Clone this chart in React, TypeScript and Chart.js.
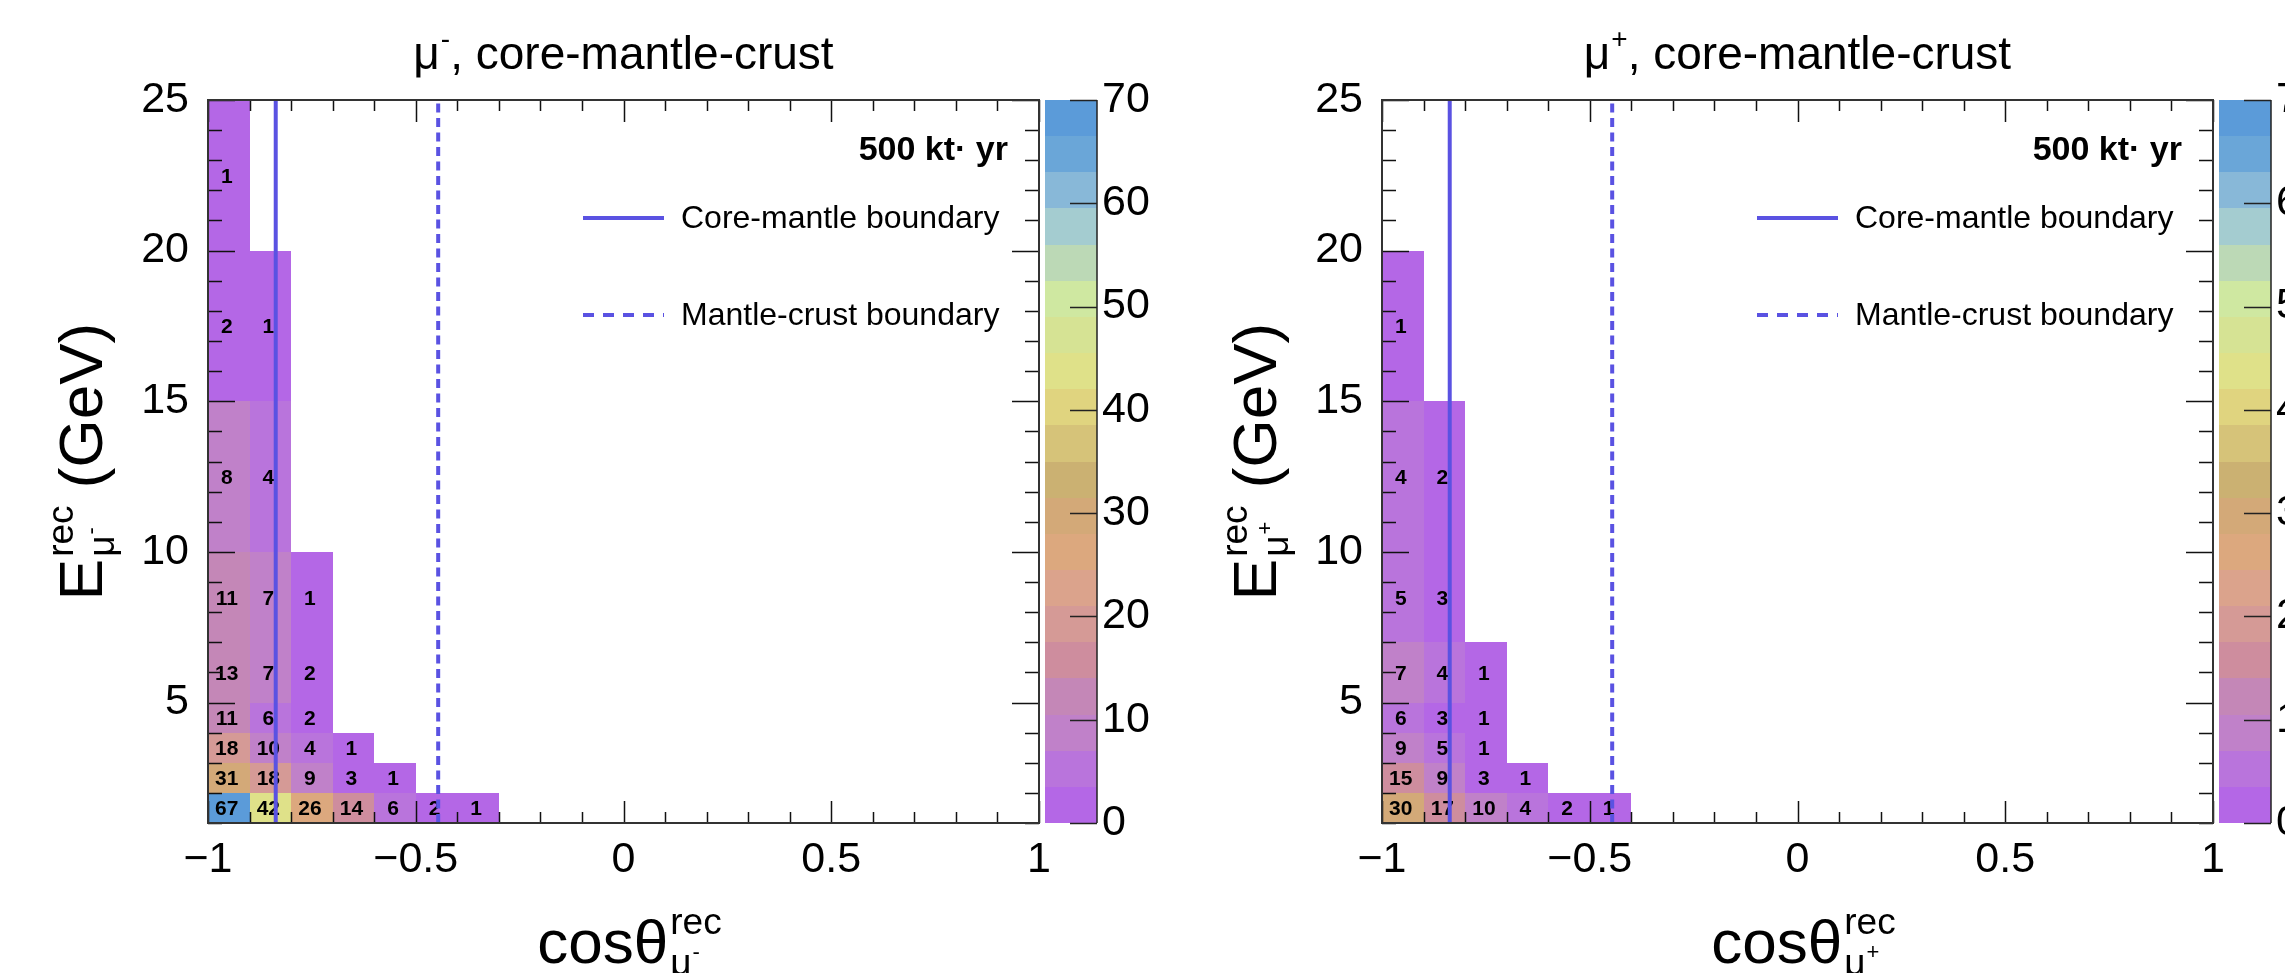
import React, { useEffect, useRef } from 'react';
import { Chart, registerables } from 'chart.js';

Chart.register(...registerables);

const FONT = '"Liberation Sans", Arial, Helvetica, sans-serif';

// ---- data ----
const cosEdges = [-1.0, -0.9, -0.8, -0.7, -0.6, -0.5, -0.4, -0.3, -0.2, -0.1, 0.0, 0.1, 0.2, 0.3, 0.4, 0.5, 0.6, 0.7, 0.8, 0.9, 1.0];
const energyEdges = [1, 2, 3, 4, 5, 7, 10, 15, 20, 25];
// counts per energy bin (bottom first), per cos bin starting at -1
const muMinusCounts = [
  [67, 42, 26, 14, 6, 2, 1],
  [31, 18, 9, 3, 1],
  [18, 10, 4, 1],
  [11, 6, 2],
  [13, 7, 2],
  [11, 7, 1],
  [8, 4],
  [2, 1],
  [1],
];
const muPlusCounts = [
  [30, 17, 10, 4, 2, 1],
  [15, 9, 3, 1],
  [9, 5, 1],
  [6, 3, 1],
  [7, 4, 1],
  [5, 3],
  [4, 2],
  [1],
  [],
];
const cosMajorTicks = [-1, -0.5, 0, 0.5, 1];
const energyMajorTicks = [5, 10, 15, 20, 25];
const energyMinorTicks = [1, 2, 3, 4, 6, 7, 8, 9, 11, 12, 13, 14, 16, 17, 18, 19, 21, 22, 23, 24];
const colorTicks = [0, 10, 20, 30, 40, 50, 60, 70];
const zMax = 70;
const paletteColors = [
  '#b467e6', '#b974dc', '#c081c9', '#c487b7', '#ce8d9e',
  '#d59a96', '#dba38c', '#dca87e', '#d3a978', '#cbb172',
  '#d6c379', '#e0d47f', '#dfe189', '#d6e394', '#cfe8a1',
  '#bcd9b6', '#a4ccd0', '#88b8d8', '#6aa6d8', '#5b9bd9',
];
const coreMantleCos = -0.837;
const mantleCrustCos = -0.446;
const exposureLabel = '500 kt\u00b7 yr';
const legendLabels = ['Core-mantle boundary', 'Mantle-crust boundary'];
const titleRest = ', core-mantle-crust';
const LINE_COLOR = '#5a52e2';

function colorFor(v: number) {
  const n = paletteColors.length;
  let i = Math.floor(v / (zMax / n));
  if (i >= n) i = n - 1;
  if (i < 0) i = 0;
  return paletteColors[i];
}

function fmtTick(v: number) {
  if (v < 0) return '\u2212' + String(Math.abs(v));
  return String(v);
}

function drawAxisTitle(ctx: CanvasRenderingContext2D, mainText: string, tail: string, sign: string, x: number, y: number, rotate: boolean) {
  ctx.save();
  ctx.translate(x, y);
  if (rotate) ctx.rotate(-Math.PI / 2);
  const F = 62, S = 37, SS = 22;
  ctx.fillStyle = '#000';
  ctx.textAlign = 'left';
  ctx.textBaseline = 'alphabetic';
  ctx.font = `${F}px ${FONT}`;
  const wMain = ctx.measureText(mainText).width;
  const wTail = tail ? ctx.measureText(tail).width : 0;
  ctx.font = `${S}px ${FONT}`;
  const wRec = ctx.measureText('rec').width;
  const wMu = ctx.measureText('\u03bc').width;
  ctx.font = `${SS}px ${FONT}`;
  const wSign = ctx.measureText(sign).width;
  const wScript = Math.max(wRec, wMu + wSign + 1);
  const total = wMain + 2 + wScript + wTail;
  const x0 = -total / 2;
  ctx.font = `${F}px ${FONT}`;
  ctx.fillText(mainText, x0, 0);
  const sx = x0 + wMain + 2;
  ctx.font = `${S}px ${FONT}`;
  ctx.fillText('rec', sx, -29);
  ctx.fillText('\u03bc', sx, 12);
  ctx.font = `${SS}px ${FONT}`;
  ctx.fillText(sign, sx + wMu + 1, -4);
  if (tail) {
    ctx.font = `${F}px ${FONT}`;
    ctx.fillText(tail, sx + wScript, 0);
  }
  ctx.restore();
}

function drawTitle(ctx: CanvasRenderingContext2D, cx: number, baseline: number, sign: string) {
  ctx.save();
  ctx.fillStyle = '#000';
  ctx.textAlign = 'left';
  ctx.textBaseline = 'alphabetic';
  ctx.font = `40px ${FONT}`;
  const w40 = ctx.measureText('\u03bc' + titleRest).width + 0.6 * ctx.measureText(sign).width + 1;
  const F = Math.round((40 * 424) / w40);
  const SS = Math.round(F * 0.6);
  ctx.font = `${F}px ${FONT}`;
  const wMu = ctx.measureText('\u03bc').width;
  const wRest = ctx.measureText(titleRest).width;
  ctx.font = `${SS}px ${FONT}`;
  const wSign = ctx.measureText(sign).width;
  const total = wMu + 1 + wSign + wRest;
  const x0 = cx - total / 2;
  ctx.font = `${F}px ${FONT}`;
  ctx.fillText('\u03bc', x0, baseline);
  ctx.font = `${SS}px ${FONT}`;
  ctx.fillText(sign, x0 + wMu + 1, baseline - Math.round(F * 0.45));
  ctx.font = `${F}px ${FONT}`;
  ctx.fillText(titleRest, x0 + wMu + 1 + wSign, baseline);
  ctx.restore();
}

function makePanelPlugin(counts: number[][], sign: string) {
  return {
    id: 'panel2d',
    beforeDatasetsDraw(chart: any) {
      const { ctx, scales } = chart;
      const xs = scales.x, ys = scales.y;
      ctx.save();
      counts.forEach((row: number[], r: number) => {
        const yTop = Math.round(ys.getPixelForValue(energyEdges[r + 1]));
        const yBot = Math.round(ys.getPixelForValue(energyEdges[r]));
        row.forEach((v: number, c: number) => {
          if (v <= 0) return;
          const xL = Math.round(xs.getPixelForValue(cosEdges[c]));
          const xR = Math.round(xs.getPixelForValue(cosEdges[c + 1]));
          ctx.fillStyle = colorFor(v);
          ctx.fillRect(xL, yTop, xR - xL, yBot - yTop);
        });
      });
      ctx.fillStyle = '#000';
      ctx.font = `bold 21px ${FONT}`;
      ctx.textAlign = 'center';
      ctx.textBaseline = 'alphabetic';
      counts.forEach((row: number[], r: number) => {
        const yc = (ys.getPixelForValue(energyEdges[r + 1]) + ys.getPixelForValue(energyEdges[r])) / 2;
        row.forEach((v: number, c: number) => {
          if (v <= 0) return;
          const xc = (xs.getPixelForValue(cosEdges[c]) + xs.getPixelForValue(cosEdges[c + 1])) / 2;
          ctx.fillText(String(v), xc - 2, yc + 7.5);
        });
      });
      ctx.restore();
    },
    afterDraw(chart: any) {
      const { ctx, chartArea: ca, scales } = chart;
      const xs = scales.x, ys = scales.y, zs = scales.z;
      ctx.save();
      // ticks (inside)
      ctx.strokeStyle = '#111';
      ctx.lineWidth = 1.5;
      ctx.beginPath();
      cosEdges.forEach((v) => {
        const px = Math.round(xs.getPixelForValue(v)) + 0.5;
        const len = cosMajorTicks.includes(v) ? 22 : 11;
        ctx.moveTo(px, ca.bottom); ctx.lineTo(px, ca.bottom - len);
        ctx.moveTo(px, ca.top); ctx.lineTo(px, ca.top + len);
      });
      energyMinorTicks.concat(energyMajorTicks).forEach((v) => {
        const py = Math.round(ys.getPixelForValue(v)) + 0.5;
        const len = energyMajorTicks.includes(v) ? 27 : 14;
        ctx.moveTo(ca.left, py); ctx.lineTo(ca.left + len, py);
        ctx.moveTo(ca.right, py); ctx.lineTo(ca.right - len, py);
      });
      ctx.stroke();
      // frame
      ctx.strokeStyle = '#333';
      ctx.lineWidth = 2;
      ctx.strokeRect(ca.left, ca.top, ca.right - ca.left, ca.bottom - ca.top);

      // colour bar
      const barL = Math.round(ca.right + 6);
      const barW = 52;
      const n = paletteColors.length;
      for (let i = 0; i < n; i++) {
        const y0 = Math.round(zs.getPixelForValue((zMax / n) * i));
        const y1 = Math.round(zs.getPixelForValue((zMax / n) * (i + 1)));
        ctx.fillStyle = paletteColors[i];
        ctx.fillRect(barL, y1, barW, y0 - y1);
      }
      ctx.strokeStyle = '#222';
      ctx.lineWidth = 1.5;
      ctx.beginPath();
      ctx.moveTo(barL + barW, zs.getPixelForValue(0));
      ctx.lineTo(barL + barW, zs.getPixelForValue(zMax));
      colorTicks.forEach((v) => {
        const py = Math.round(zs.getPixelForValue(v)) + 0.5;
        ctx.moveTo(barL + barW, py); ctx.lineTo(barL + barW - 27, py);
      });
      ctx.stroke();

      // title
      drawTitle(ctx, (ca.left + ca.right) / 2, ca.top - 31, sign);
      // axis titles
      drawAxisTitle(ctx, 'cos\u03b8', '', sign, (ca.left + ca.right) / 2 + 6, 963, false);
      drawAxisTitle(ctx, 'E', ' (GeV)', sign, ca.left - 106, (ca.top + ca.bottom) / 2, true);

      // exposure label
      ctx.fillStyle = '#000';
      ctx.font = `bold 34px ${FONT}`;
      ctx.textAlign = 'right';
      ctx.textBaseline = 'alphabetic';
      ctx.fillText(exposureLabel, ca.right - 31, ca.top + 60);

      // legend
      const lx0 = ca.left + 375, lx1 = ca.left + 456, tx = ca.left + 473;
      ctx.strokeStyle = LINE_COLOR;
      ctx.lineWidth = 4;
      ctx.beginPath();
      ctx.moveTo(lx0, ca.top + 118); ctx.lineTo(lx1, ca.top + 118);
      ctx.stroke();
      ctx.setLineDash([11, 9]);
      ctx.beginPath();
      ctx.moveTo(lx0, ca.top + 215); ctx.lineTo(lx1, ca.top + 215);
      ctx.stroke();
      ctx.setLineDash([]);
      ctx.font = `32px ${FONT}`;
      ctx.textAlign = 'left';
      ctx.fillStyle = '#000';
      ctx.fillText(legendLabels[0], tx, ca.top + 128);
      ctx.fillText(legendLabels[1], tx, ca.top + 225);
      ctx.restore();
    },
  };
}

function makeConfig(counts: number[][], sign: string): any {
  const tickFont = { family: FONT, size: 43 };
  return {
    type: 'scatter',
    data: {
      datasets: [
        {
          label: legendLabels[0],
          data: [{ x: coreMantleCos, y: energyEdges[0] }, { x: coreMantleCos, y: energyEdges[energyEdges.length - 1] }],
          showLine: true,
          borderColor: LINE_COLOR,
          borderWidth: 4,
          pointRadius: 0,
        },
        {
          label: legendLabels[1],
          data: [{ x: mantleCrustCos, y: energyEdges[0] }, { x: mantleCrustCos, y: energyEdges[energyEdges.length - 1] }],
          showLine: true,
          borderColor: LINE_COLOR,
          borderWidth: 4,
          borderDash: [9, 5.5],
          pointRadius: 0,
        },
      ],
    },
    options: {
      responsive: false,
      animation: false,
      devicePixelRatio: 1,
      events: [],
      layout: { padding: { top: 100, left: 0, right: 0, bottom: 0 } },
      plugins: { legend: { display: false }, title: { display: false }, tooltip: { enabled: false } },
      scales: {
        x: {
          type: 'linear', position: 'bottom', min: -1, max: 1,
          grid: { display: false, drawTicks: false },
          border: { display: false },
          ticks: { font: tickFont, color: '#000', padding: 11, maxRotation: 0, autoSkip: false, callback: (v: number) => fmtTick(v) },
          afterBuildTicks: (s: any) => { s.ticks = cosMajorTicks.map((v) => ({ value: v })); },
          afterFit: (s: any) => { s.height = 150; },
        },
        y: {
          type: 'linear', position: 'left', min: 1, max: 25,
          grid: { display: false, drawTicks: false },
          border: { display: false },
          ticks: { font: tickFont, color: '#000', padding: 19, autoSkip: false, callback: (v: number) => String(v) },
          afterBuildTicks: (s: any) => { s.ticks = energyMajorTicks.map((v) => ({ value: v })); },
          afterFit: (s: any) => { s.width = 208; },
        },
        z: {
          type: 'linear', position: 'right', axis: 'y', min: 0, max: zMax,
          grid: { display: false, drawTicks: false },
          border: { display: false },
          ticks: { font: tickFont, color: '#000', padding: 63, autoSkip: false, callback: (v: number) => String(v) },
          afterBuildTicks: (s: any) => { s.ticks = colorTicks.map((v) => ({ value: v })); },
          afterFit: (s: any) => { s.width = 135; },
        },
      },
    },
    plugins: [makePanelPlugin(counts, sign)],
  };
}

export default function App() {
  const leftRef = useRef<HTMLCanvasElement>(null);
  const rightRef = useRef<HTMLCanvasElement>(null);
  useEffect(() => {
    document.body.style.margin = '0';
    document.body.style.overflow = 'hidden';
    const c1 = new Chart(leftRef.current as HTMLCanvasElement, makeConfig(muMinusCounts, '-'));
    const c2 = new Chart(rightRef.current as HTMLCanvasElement, makeConfig(muPlusCounts, '+'));
    return () => { c1.destroy(); c2.destroy(); };
  }, []);
  return (
    <div style={{ position: 'relative', width: 2285, height: 973, overflow: 'hidden', background: '#fff' }}>
      <canvas ref={leftRef} width={1174} height={973} style={{ position: 'absolute', left: 0, top: 0, width: 1174, height: 973 }} />
      <canvas ref={rightRef} width={1174} height={973} style={{ position: 'absolute', left: 1174, top: 0, width: 1174, height: 973 }} />
    </div>
  );
}
